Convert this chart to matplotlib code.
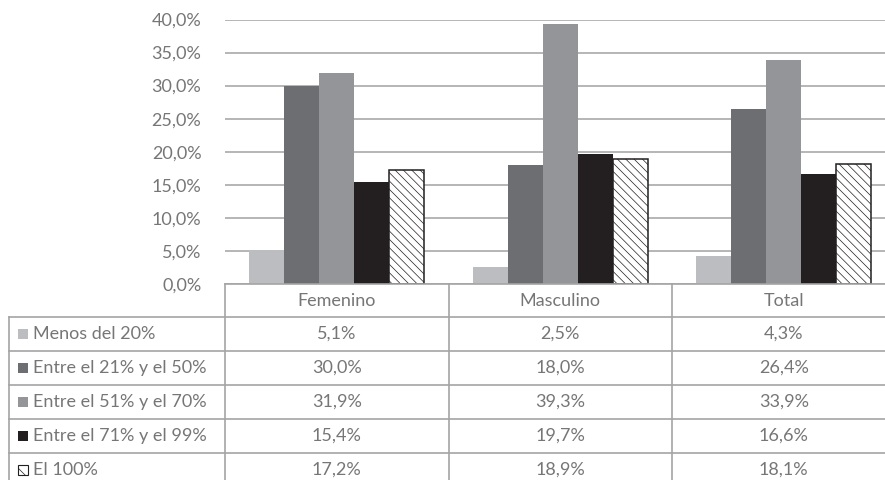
"""Distribución por sexo: barras agrupadas con tabla de datos debajo."""

import matplotlib

matplotlib.use("Agg")
import matplotlib.pyplot as plt  # noqa: E402
from matplotlib.patches import Rectangle  # noqa: E402
from matplotlib.ticker import FuncFormatter  # noqa: E402

categories = ["Femenino", "Masculino", "Total"]
series_names = [
    "Menos del 20%",
    "Entre el 21% y el 50%",
    "Entre el 51% y el 70%",
    "Entre el 71% y el 99%",
    "El 100%",
]
menos_20 = [5.1, 2.5, 4.3]
entre_21_50 = [30.0, 18.0, 26.4]
entre_51_70 = [31.9, 39.3, 33.9]
entre_71_99 = [15.4, 19.7, 16.6]
el_100 = [17.2, 18.9, 18.1]
yticks = [0, 5, 10, 15, 20, 25, 30, 35, 40]

series = [menos_20, entre_21_50, entre_51_70, entre_71_99, el_100]
colors = ["#bcbdc0", "#6d6e71", "#939598", "#231f20", "white"]

W, H = 885, 480
TEXT = "#767676"
GRID = "#b0b0b0"
LINE = "#a4a4a4"
FS = 13

plt.rcParams["font.family"] = ["Lato", "DejaVu Sans"]
plt.rcParams["hatch.linewidth"] = 0.5
plt.rcParams["hatch.color"] = "#8a8a8a"


def fmt(v):
    return f"{v:.1f}%".replace(".", ",")


fig = plt.figure(figsize=(W / 100, H / 100), dpi=100)

# geometría en píxeles
left, top, base = 225, 19.5, 284
col_w = 223.5
ax = fig.add_axes([left / W, 1 - base / H, 3 * col_w / W, (base - top) / H])

bar_w = 0.157
for k, (vals, c) in enumerate(zip(series, colors)):
    xs = [i + (k - 2) * bar_w for i in range(len(categories))]
    if k == 4:
        ax.bar(xs, vals, bar_w, color=c, edgecolor="#231f20", linewidth=1.1,
               hatch="\\\\\\\\", zorder=3)
    else:
        ax.bar(xs, vals, bar_w, color=c, linewidth=0, zorder=3)

ax.set_xlim(-0.5, 2.5)
ax.set_ylim(0, 40)
ax.set_yticks(yticks)
ax.yaxis.set_major_formatter(FuncFormatter(lambda v, _: fmt(v)))
ax.tick_params(axis="y", length=0, pad=17, labelsize=FS, labelcolor=TEXT)
ax.set_xticks([])
ax.grid(axis="y", color=GRID, linewidth=1.3, zorder=0)
for s in ax.spines.values():
    s.set_visible(False)

# tabla de datos en coordenadas de píxel
tab = fig.add_axes([0, 0, 1, 1], zorder=5)
tab.set_xlim(0, W)
tab.set_ylim(H, 0)
tab.axis("off")

row_top = 317
row_h = 34
n_rows = len(series_names)
col_x = [left + i * col_w for i in range(4)]
lab_x = 9

tab.plot([left, W], [base, base], color=LINE, lw=1.2)
for r in range(n_rows):
    y = row_top + r * row_h
    tab.plot([lab_x, W], [y, y], color=LINE, lw=1.2)
tab.plot([lab_x, lab_x], [row_top, H], color=LINE, lw=1.2)
for x in col_x[:3]:
    tab.plot([x, x], [base, H], color=LINE, lw=1.2)

for i, cat in enumerate(categories):
    cx = left + (i + 0.5) * col_w
    tab.text(cx, (base + row_top) / 2, cat, ha="center", va="center",
             fontsize=FS, color=TEXT)

for r, (name, vals, c) in enumerate(zip(series_names, series, colors)):
    cy = row_top + (r + 0.5) * row_h
    if r == 4:
        tab.add_patch(Rectangle((18, cy - 5), 10, 10, facecolor="white",
                                edgecolor="#231f20", lw=0.8, hatch="\\\\"))
    else:
        tab.add_patch(Rectangle((18, cy - 5), 10, 10, facecolor=c, lw=0))
    tab.text(33, cy, name, ha="left", va="center", fontsize=FS, color=TEXT)
    for i, v in enumerate(vals):
        cx = left + (i + 0.5) * col_w
        tab.text(cx, cy, fmt(v), ha="center", va="center", fontsize=FS, color=TEXT)

fig.savefig("out.png", dpi=100)
